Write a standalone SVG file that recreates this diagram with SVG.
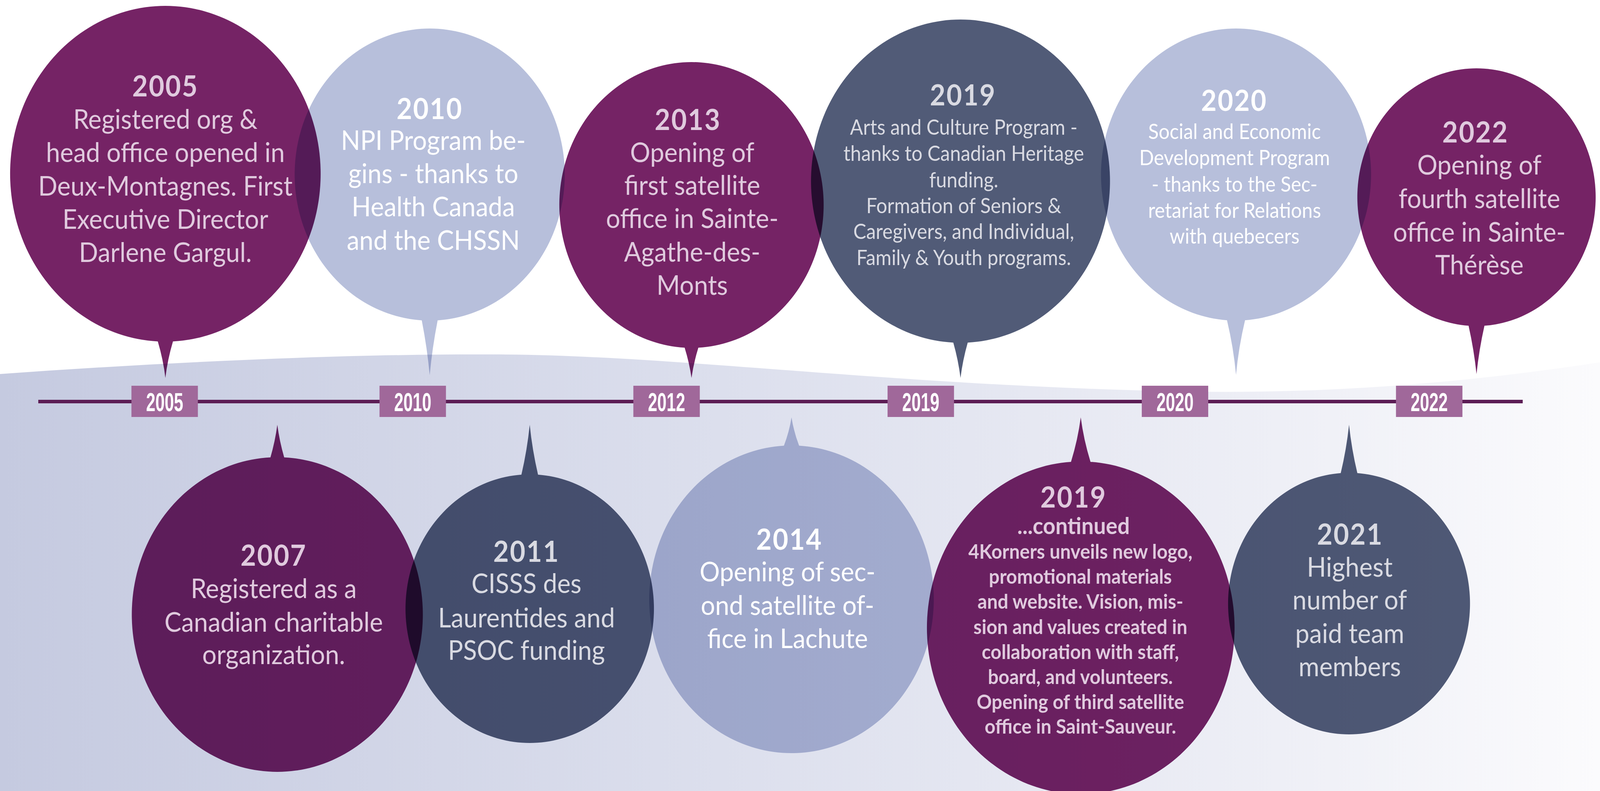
<svg xmlns="http://www.w3.org/2000/svg" width="4431" height="2026" viewBox="0 0 4431 2026" preserveAspectRatio="none" style="width:100vw;height:100vh;display:block">
<style>
.bub{mix-blend-mode:multiply}
.pu{fill:#752365}.lt{fill:#b7bfdb}.sl{fill:#515b77}
text{font-family:Lato,"Open Sans",sans-serif;text-anchor:middle}
.h{font-size:74px;font-weight:700;letter-spacing:3px}
.b{font-size:70px;font-weight:400}
.s{font-size:53.5px;font-weight:400}
.c{font-size:52px;font-weight:700}
.cont{font-size:60px;font-weight:700}
.tp{fill:#e0cade}.tw{fill:#ffffff}.tg{fill:#d9dae2}
.yb{fill:#a0689a}
.yt{font-family:"Liberation Sans",Arial,sans-serif;font-size:66px;font-weight:700;fill:#ffffff}
</style>
<defs>
<linearGradient id="bg" x1="0" y1="0" x2="1" y2="0">
<stop offset="0" stop-color="#c5cae0"/>
<stop offset="0.45" stop-color="#dcdfed"/>
<stop offset="0.8" stop-color="#eeeff6"/>
<stop offset="1" stop-color="#fbfbfd"/>
</linearGradient>
</defs>
<rect width="4431" height="2026" fill="#ffffff"/>
<path id="wave" d="M0,958 C500,925 1000,905 1400,908 C1900,912 2500,990 3300,1003 C3800,1010 4200,960 4431,928 L4431,2026 L0,2026 Z" fill="url(#bg)"/>

<g id="connectors">
<rect x="106" y="1024" width="4111" height="9" fill="#5c1d55"/>
</g>

<g id="n2005">
<path class="bub pu" d="M437,874.5 Q452,921 458,968 Q464,921 479,874.5 A430,430 0 1 0 437,874.5 Z"/>
<text class="h tp" x="458" y="247">2005</text>
<text class="b tp" x="458" y="330">Registered org &amp;</text>
<text class="b tp" x="458" y="415">head office opened in</text>
<text class="b tp" x="458" y="501">Deux-Montagnes. First</text>
<text class="b tp" x="458" y="586">Executive Director</text>
<text class="b tp" x="458" y="671">Darlene Gargul.</text>
</g>

<g id="n2010">
<path class="bub lt" d="M1168,820.4 Q1183,891 1190,961 Q1197,891 1212,820.4 A374,374 0 1 0 1168,820.4 Z"/>
<text class="h tw" x="1190" y="305">2010</text>
<text class="b tw" x="1200" y="384">NPI Program be-</text>
<text class="b tw" x="1200" y="469">gins - thanks to</text>
<text class="b tw" x="1200" y="554">Health Canada</text>
<text class="b tw" x="1200" y="640">and the CHSSN</text>
</g>

<g id="n2013">
<path class="bub pu" d="M1896,890.5 Q1909,929 1915,968 Q1921,929 1934,890.5 A366,366 0 1 0 1896,890.5 Z"/>
<text class="h tp" x="1905" y="333">2013</text>
<text class="b tp" x="1917" y="415">Opening of</text>
<text class="b tp" x="1917" y="499">first satellite</text>
<text class="b tp" x="1917" y="584">office in Sainte-</text>
<text class="b tp" x="1917" y="670">Agathe-des-</text>
<text class="b tp" x="1917" y="755">Monts</text>
</g>

<g id="n2019">
<path class="bub sl" d="M2640,877.5 Q2654,923 2660,968 Q2666,923 2680,877.5 A414,414 0 1 0 2640,877.5 Z"/>
<text class="h tg" x="2667" y="270">2019</text>
<text class="s tg" x="2669" y="345">Arts and Culture Program -</text>
<text class="s tg" x="2669" y="412">thanks to Canadian Heritage</text>
<text class="s tg" x="2669" y="480">funding.</text>
<text class="s tg" x="2669" y="546">Formation of Seniors &amp;</text>
<text class="s tg" x="2669" y="612">Caregivers, and Individual,</text>
<text class="s tg" x="2669" y="679">Family &amp; Youth programs.</text>
</g>

<g id="n2020">
<path class="bub lt" d="M3398,820.2 Q3416,890 3423,960 Q3430,890 3448,820.2 A374,374 0 1 0 3398,820.2 Z"/>
<text class="h tw" x="3418" y="284">2020</text>
<text class="s tw" x="3419" y="356">Social and Economic</text>
<text class="s tw" x="3419" y="423">Development Program</text>
<text class="s tw" x="3419" y="491">- thanks to the Sec-</text>
<text class="s tw" x="3419" y="558">retariat for Relations</text>
<text class="s tw" x="3419" y="624">with quebecers</text>
</g>

<g id="n2022">
<path class="bub pu" d="M4067,834.3 Q4082,896 4089,958 Q4096,896 4111,834.3 A330,330 0 1 0 4067,834.3 Z"/>
<text class="h tp" x="4086" y="365">2022</text>
<text class="b tp" x="4097" y="447">Opening of</text>
<text class="b tp" x="4097" y="533">fourth satellite</text>
<text class="b tp" x="4097" y="619">office in Sainte-</text>
<text class="b tp" x="4097" y="703">Thérèse</text>
</g>

<g id="n2007">
<path class="bub pu" d="M749,1171.4 Q762,1130 768,1088 Q774,1130 787,1171.4 A403,403 0 1 1 749,1171.4 Z"/>
<text class="h tp" x="758" y="1449">2007</text>
<text class="b tp" x="758" y="1532">Registered as a</text>
<text class="b tp" x="758" y="1618">Canadian charitable</text>
<text class="b tp" x="758" y="1701">organization.</text>
</g>

<g id="n2011">
<path class="bub sl" d="M1444,1215.8 Q1460,1152 1467,1088 Q1474,1152 1490,1215.8 A344,344 0 1 1 1444,1215.8 Z"/>
<text class="h tg" x="1458" y="1439">2011</text>
<text class="b tg" x="1458" y="1519">CISSS des</text>
<text class="b tg" x="1458" y="1607">Laurentides and</text>
<text class="b tg" x="1458" y="1690">PSOC funding</text>
</g>

<g id="n2014">
<path class="bub lt" d="M2171,1141.6 Q2186,1105 2192,1069 Q2198,1105 2213,1141.6 A394,394 0 1 1 2171,1141.6 Z"/>
<text class="h tw" x="2186" y="1408">2014</text>
<text class="b tw" x="2181" y="1489">Opening of sec-</text>
<text class="b tw" x="2181" y="1575">ond satellite of-</text>
<text class="b tw" x="2181" y="1660">fice in Lachute</text>
</g>

<g id="n2019c">
<path class="bub pu" d="M2966,1182.9 Q2985,1126 2993,1069 Q3001,1126 3020,1182.9 A426,426 0 1 1 2966,1182.9 Z"/>
<text class="h tp" x="2973" y="1300">2019</text>
<text class="cont tp" x="2973" y="1368">...continued</text>
<text class="c tp" x="2992" y="1431">4Korners unveils new logo,</text>
<text class="c tp" x="2992" y="1495">promotional materials</text>
<text class="c tp" x="2992" y="1559">and website. Vision, mis-</text>
<text class="c tp" x="2992" y="1624">sion and values created in</text>
<text class="c tp" x="2992" y="1688">collaboration with staff,</text>
<text class="c tp" x="2992" y="1752">board, and volunteers.</text>
<text class="c tp" x="2992" y="1816">Opening of third satellite</text>
<text class="c tp" x="2992" y="1879">office in Saint-Sauveur.</text>
</g>

<g id="n2021">
<path class="bub sl" d="M3713,1211.8 Q3729,1150 3736,1088 Q3743,1150 3759,1211.8 A335,335 0 1 1 3713,1211.8 Z"/>
<text class="h tg" x="3739" y="1395">2021</text>
<text class="b tg" x="3738" y="1477">Highest</text>
<text class="b tg" x="3738" y="1561">number of</text>
<text class="b tg" x="3738" y="1647">paid team</text>
<text class="b tg" x="3738" y="1732">members</text>
</g>

<g id="years">
<g id="y2005"><rect class="yb" x="364" y="988" width="184" height="80"/><text class="yt" x="456" y="1053" textLength="103" lengthAdjust="spacingAndGlyphs">2005</text></g>
<g id="y2010"><rect class="yb" x="1051" y="988" width="184" height="80"/><text class="yt" x="1143" y="1053" textLength="103" lengthAdjust="spacingAndGlyphs">2010</text></g>
<g id="y2012"><rect class="yb" x="1754" y="988" width="184" height="80"/><text class="yt" x="1846" y="1053" textLength="103" lengthAdjust="spacingAndGlyphs">2012</text></g>
<g id="y2019"><rect class="yb" x="2458" y="988" width="184" height="80"/><text class="yt" x="2550" y="1053" textLength="103" lengthAdjust="spacingAndGlyphs">2019</text></g>
<g id="y2020"><rect class="yb" x="3162" y="988" width="184" height="80"/><text class="yt" x="3254" y="1053" textLength="103" lengthAdjust="spacingAndGlyphs">2020</text></g>
<g id="y2022"><rect class="yb" x="3866" y="988" width="184" height="80"/><text class="yt" x="3958" y="1053" textLength="103" lengthAdjust="spacingAndGlyphs">2022</text></g>
</g>
</svg>
